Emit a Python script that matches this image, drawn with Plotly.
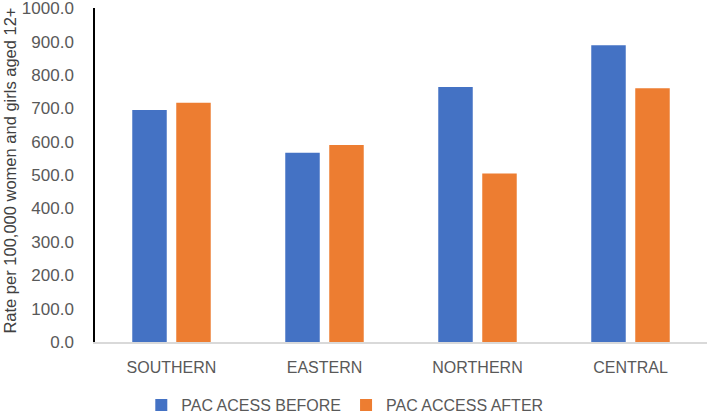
import plotly.graph_objects as go

regions = ["SOUTHERN", "EASTERN", "NORTHERN", "CENTRAL"]
before = [695.0, 567.0, 764.0, 889.0]
after = [717.0, 590.0, 505.0, 760.0]
series_names = ["PAC ACESS BEFORE", "PAC ACCESS AFTER"]
y_ticks = [0, 100, 200, 300, 400, 500, 600, 700, 800, 900, 1000]
y_title = "Rate per 100,000 women and girls aged 12+"

font_family = "Liberation Sans, Arial, sans-serif"

fig = go.Figure()
fig.add_trace(go.Bar(x=regions, y=before, name=series_names[0],
                     marker=dict(color="#4472C4", line=dict(width=0))))
fig.add_trace(go.Bar(x=regions, y=after, name=series_names[1],
                     marker=dict(color="#ED7D31", line=dict(width=0))))

fig.update_layout(
    width=708, height=415,
    margin=dict(l=95, r=1, t=8, b=73, autoexpand=False),
    paper_bgcolor="white", plot_bgcolor="white",
    barmode="group", bargap=0.425, bargroupgap=0.216,
    font=dict(family=font_family, color="#595959", size=16),
    showlegend=True,
    legend=dict(orientation="h", xref="container", x=0.487, xanchor="center",
                yref="paper", y=-0.138, yanchor="top",
                font=dict(size=16, color="#595959")),
    annotations=[dict(text=y_title, textangle=-90, showarrow=False,
                      xref="paper", yref="paper", x=-0.139, y=0.513,
                      xanchor="center", yanchor="middle",
                      font=dict(size=16.5, color="#404040"))],
)
fig.update_xaxes(showline=True, linecolor="#D9D9D9", linewidth=1.5,
                 showgrid=False, ticks="", tickfont=dict(size=16, color="#595959"),
                 ticklabelstandoff=10, automargin=False)
fig.update_yaxes(range=[0, 1000.5], tickvals=y_ticks, tickformat=".1f",
                 showline=True, linecolor="#000000", linewidth=1.5,
                 showgrid=False, zeroline=False, ticks="",
                 ticklabeloverflow="allow", automargin=False,
                 tickfont=dict(size=17, color="#595959"), ticklabelstandoff=16)

fig.write_html("out.html")
